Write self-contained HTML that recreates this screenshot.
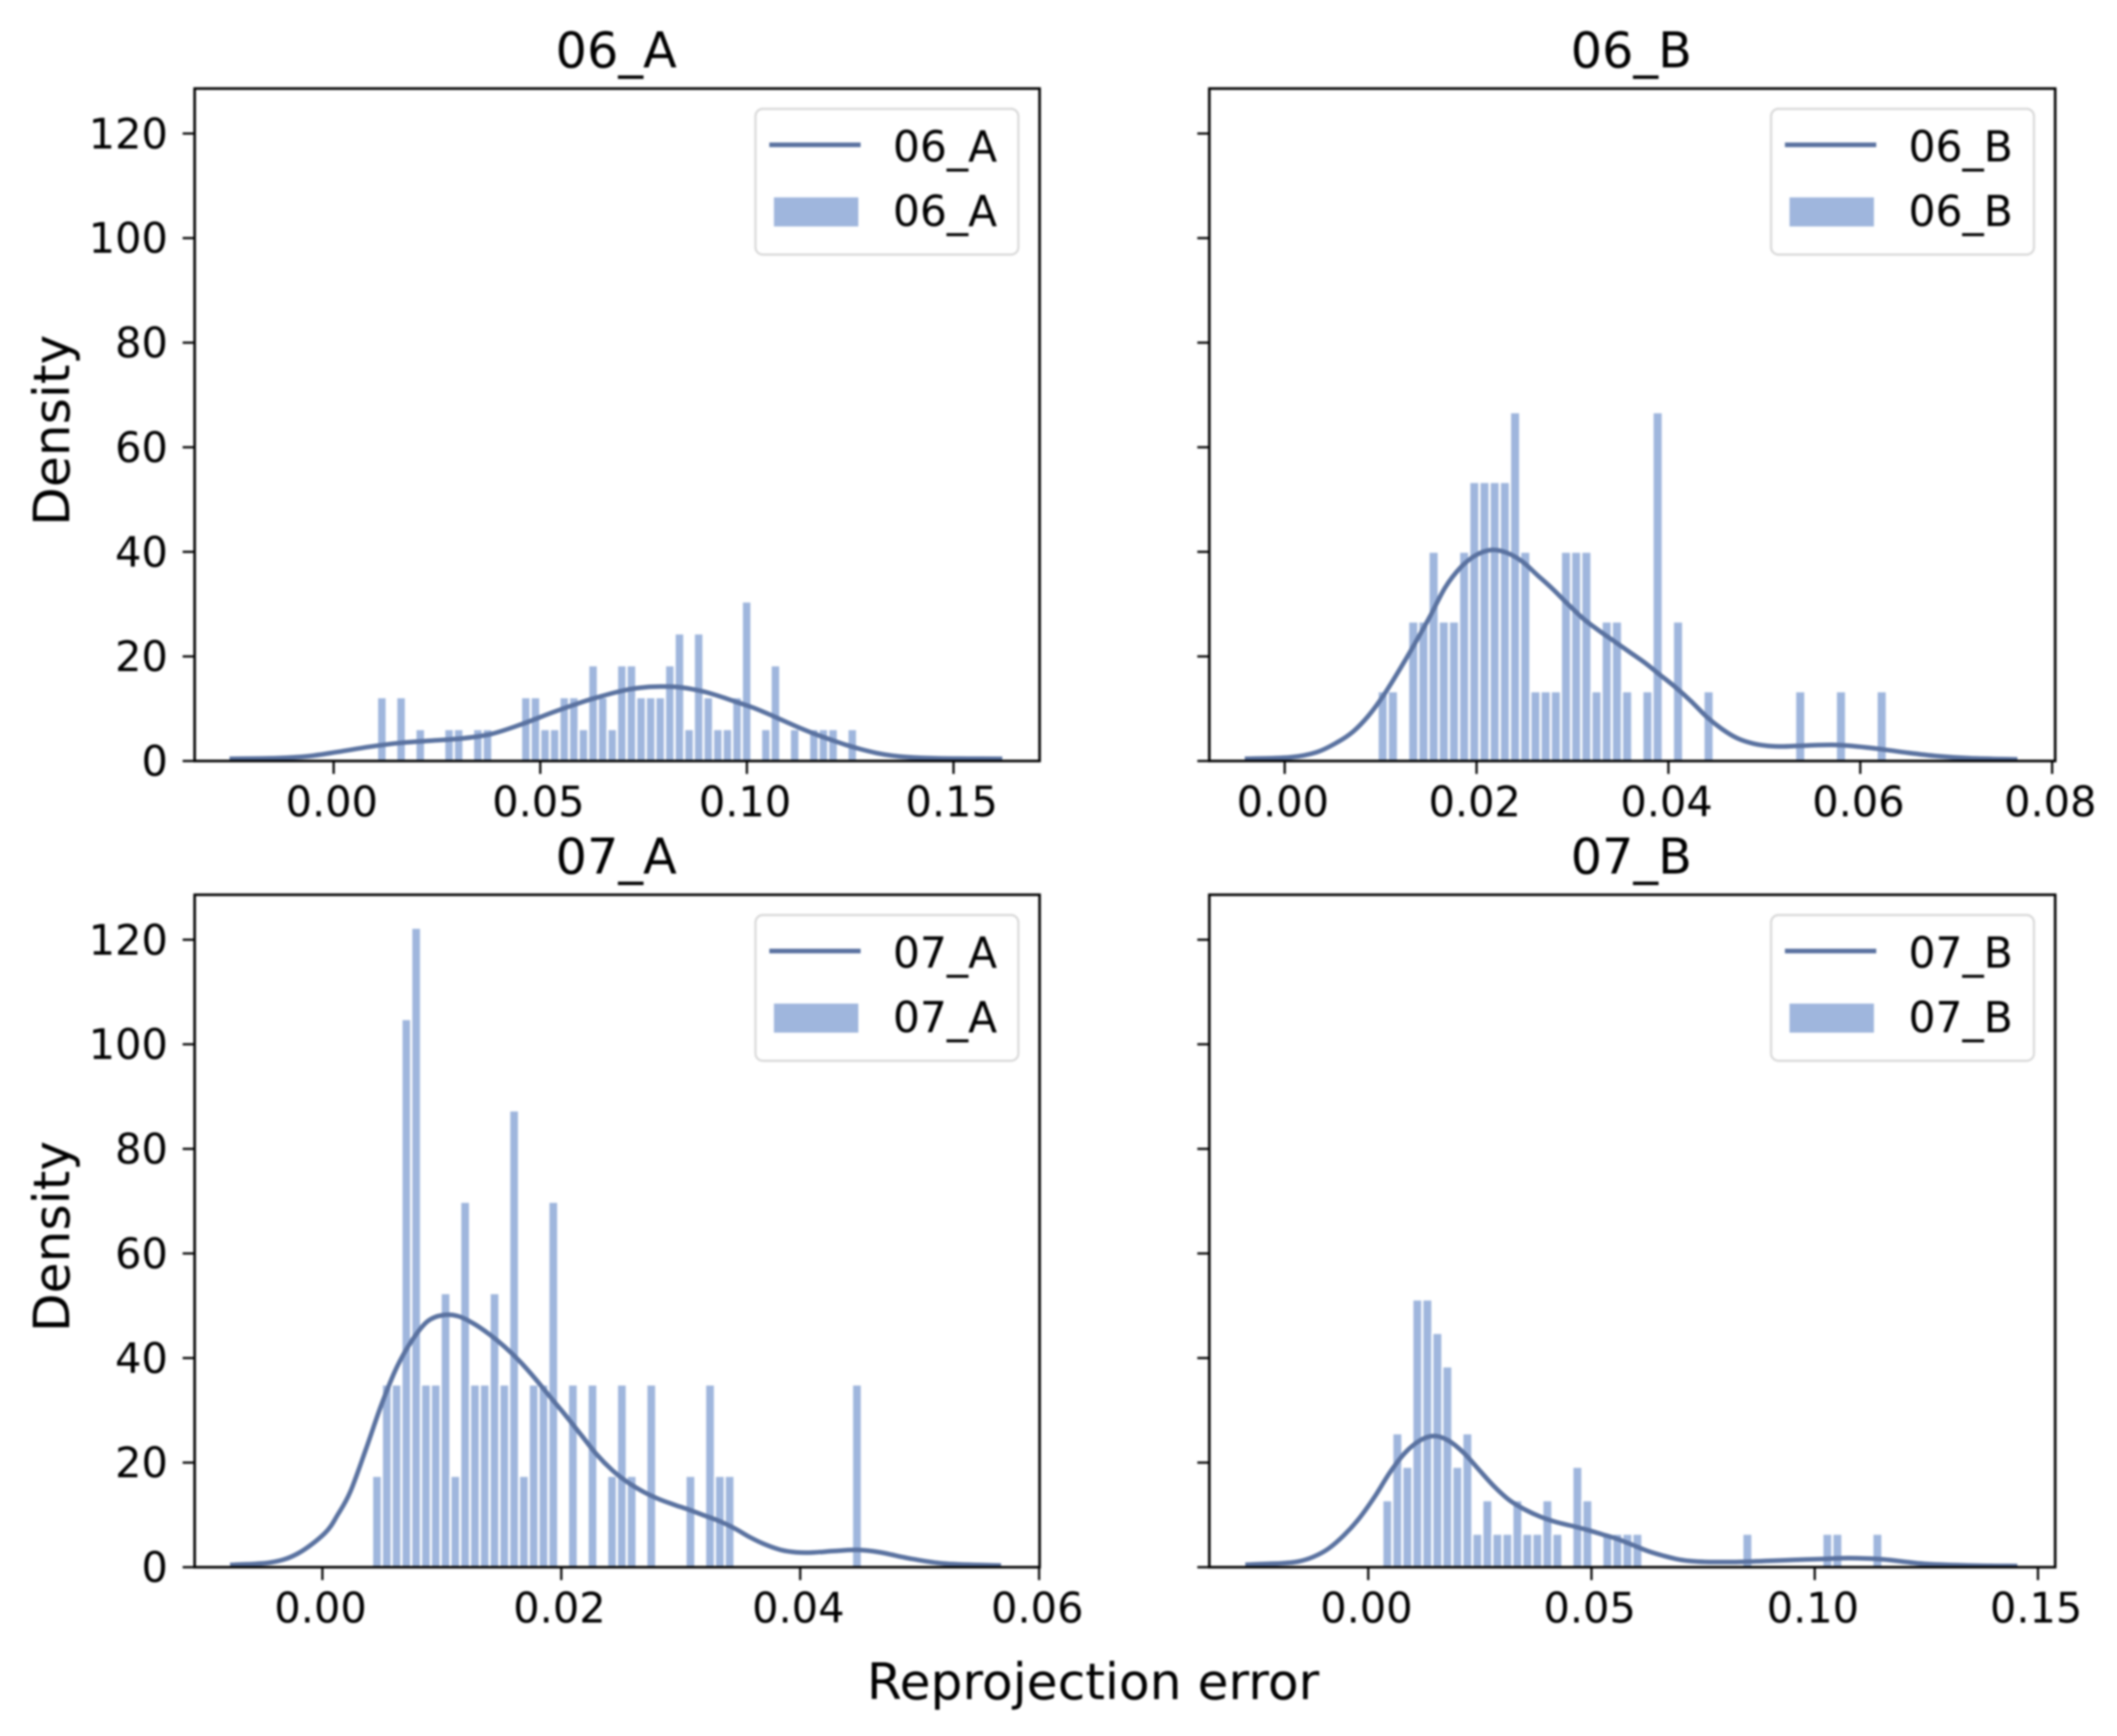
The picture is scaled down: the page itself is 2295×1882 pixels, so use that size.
<!DOCTYPE html>
<html lang="en">
<head>
<meta charset="utf-8">
<title>Reprojection error density</title>
<style>
  html, body { margin: 0; padding: 0; background: #ffffff; }
  #chart { display: block; width: 2295px; height: 1882px; filter: blur(1px); }
  text { font-family: "DejaVu Sans", "Liberation Sans", sans-serif; fill: #000000; }
</style>
</head>
<body>
<svg id="chart" xmlns="http://www.w3.org/2000/svg" width="2295" height="1882" viewBox="0 0 2295 1882">
  <rect x="0" y="0" width="2295" height="1882" fill="#ffffff"></rect>
  <text x="1185" y="1842" font-size="54.5" text-anchor="middle">Reprojection error</text>
</svg>
<script>
// ---- shared axis data ----
const yTickValues = [0, 20, 40, 60, 80, 100, 120];
const yTickLabels = ["0", "20", "40", "60", "80", "100", "120"];
const yLimit = [0, 128.6];

// ---- 06_A ----
const hist06A = [12.2,0,12.2,0,6.1,0,0,6.1,6.1,0,6.1,6.1,0,0,0,12.2,12.2,6.1,6.1,12.2,12.2,6.1,18.3,12.2,6.1,18.3,18.3,12.2,12.2,12.2,18.3,24.4,6.1,24.4,12.2,6.1,6.1,12.2,30.5,0,6.1,18.3,0,6.1,0,6.1,6.1,6.1,0,6.1];
const kdeX06A = [-0.0252,-0.0138,-0.0063,0.0011,0.0085,0.0160,0.0234,0.0309,0.0383,0.0458,0.0532,0.0606,0.0644,0.0681,0.0718,0.0755,0.0792,0.0830,0.0867,0.0904,0.0941,0.0978,0.1016,0.1053,0.1090,0.1127,0.1164,0.1202,0.1239,0.1276,0.1313,0.1350,0.1388,0.1462,0.1536,0.1618];
const kdeY06A = [0.42,0.55,0.9,1.75,2.7,3.45,3.89,4.3,5.2,7.12,9.36,11.4,12.3,13.1,13.75,14.12,14.24,14.15,13.75,13.1,12.2,11.2,10.18,8.95,7.65,6.36,5.18,4.1,3.1,2.25,1.54,1.05,0.75,0.5,0.45,0.42];
const xTicks06A = [0, 0.05, 0.10, 0.15];
const xLabels06A = ["0.00", "0.05", "0.10", "0.15"];
const xLimit06A = [-0.03364, 0.17083];
const bins06A = [0.01167, 0.002323];

// ---- 06_B ----
const hist06B = [13.34,13.34,0,26.68,26.68,40.02,26.68,26.68,40.02,53.36,53.36,53.36,53.36,66.7,40.02,13.34,13.34,13.34,40.02,40.02,40.02,13.34,26.68,26.68,13.34,0,13.34,66.7,0,26.68,0,0,13.34,0,0,0,0,0,0,0,0,13.34,0,0,0,13.34,0,0,0,13.34];
const kdeX06B = [-0.00416,0.00055,0.00336,0.00551,0.00712,0.00871,0.01032,0.01192,0.01352,0.01513,0.01673,0.01833,0.01993,0.02154,0.02313,0.02474,0.02635,0.02794,0.02955,0.03115,0.03275,0.03436,0.03596,0.03756,0.03916,0.04077,0.04237,0.04397,0.04558,0.04717,0.04878,0.05038,0.05198,0.05359,0.05743,0.06094,0.06445,0.06797,0.07147,0.07638];
const kdeY06B = [0.42,0.7,1.7,3.6,5.6,8.6,12.59,17.3,22.3,27.59,33.18,37,39.36,40.36,39.83,38.18,35.53,32.89,29.95,27.18,24.95,22.89,20.83,18.77,16.42,14.06,11.42,8.48,6.12,4.36,3.36,2.89,2.77,2.89,3.07,2.54,1.69,0.95,0.53,0.32];
const xTicks06B = [0, 0.02, 0.04, 0.06, 0.08];
const xLabels06B = ["0.00", "0.02", "0.04", "0.06", "0.08"];
const xLimit06B = [-0.007856, 0.08032];
const bins06B = [0.01022, 0.0010615];

// ---- 07_A ----
const hist07A = [17.47,34.94,34.94,104.82,122.29,34.94,34.94,52.41,17.47,69.88,34.94,34.94,52.41,34.94,87.35,17.47,34.94,34.94,69.88,0,34.94,0,34.94,0,17.47,34.94,17.47,0,34.94,0,0,0,17.47,0,34.94,17.47,17.47,0,0,0,0,0,0,0,0,0,0,0,0,34.94];
const kdeX07A = [-0.00773,-0.00434,-0.00207,0.00020,0.00130,0.00235,0.00365,0.00493,0.00622,0.00751,0.00879,0.01008,0.01137,0.01265,0.01394,0.01523,0.01651,0.0178,0.01909,0.02037,0.02166,0.02295,0.02424,0.02552,0.02681,0.02809,0.02938,0.03067,0.03196,0.03325,0.03453,0.03582,0.03711,0.03839,0.03968,0.04097,0.0429,0.04475,0.04662,0.04945,0.05228,0.05681];
const kdeY07A = [0.44,0.9,2.6,6.5,10.1,14.5,22.6,31.0,38.2,43.4,47,48.2,48,46.6,44.6,42.2,39.4,36.1,32.5,29,25.3,21.6,18.6,16.3,14.5,13.1,12,11,9.9,8.8,7.4,5.7,4.3,3.3,2.85,2.8,3.1,3.3,2.87,1.55,0.66,0.33];
const xTicks07A = [0, 0.02, 0.04, 0.06];
const xLabels07A = ["0.00", "0.02", "0.04", "0.06"];
const xLimit07A = [-0.010695, 0.06004];
const bins07A = [0.004571, 0.00082];

// ---- 07_B ----
const hist07B = [12.8,25.6,19.2,51.2,51.2,44.8,38.4,19.2,25.6,6.4,12.8,6.4,6.4,12.8,6.4,6.4,12.8,6.4,0,19.2,12.8,0,6.4,6.4,6.4,6.4,0,0,0,0,0,0,0,0,0,0,6.4,0,0,0,0,0,0,0,6.4,6.4,0,0,0,6.4];
const kdeX07B = [-0.02754,-0.02273,-0.01928,-0.01583,-0.0124,-0.00895,-0.0055,-0.00207,0.00138,0.00483,0.00826,0.01171,0.01480,0.01791,0.02136,0.02479,0.02824,0.03169,0.03512,0.03857,0.04202,0.04545,0.0489,0.05236,0.05579,0.05924,0.06269,0.06612,0.06957,0.07302,0.07645,0.08196,0.08884,0.09574,0.10262,0.10772,0.11528,0.12433,0.13486,0.14539];
const kdeY07B = [0.47,0.65,0.76,1.06,1.94,3.53,6.06,9.29,13.4,18.1,21.9,24.3,25.1,24.24,21.88,18.65,15.41,12.76,11,9.65,8.65,7.94,7.18,6.29,5.41,4.24,3.06,2.18,1.47,1.12,1,1,1.18,1.41,1.59,1.75,1.5,0.66,0.33,0.22];
const xTicks07B = [0, 0.05, 0.10, 0.15];
const xLabels07B = ["0.00", "0.05", "0.10", "0.15"];
const xLimit07B = [-0.0356, 0.15386];
const bins07B = [0.00428, 0.00224];

const SVG_NS = "http://www.w3.org/2000/svg";
const svg = document.getElementById("chart");
const BAR_COLOR = "#9fb6dd";
const LINE_COLOR = "#5a72a0";

function make(tag, attrs, parent) {
  const el = document.createElementNS(SVG_NS, tag);
  for (const k in attrs) el.setAttribute(k, attrs[k]);
  parent.appendChild(el);
  return el;
}

function smoothPath(pts) {
  let d = "M" + pts[0][0].toFixed(2) + " " + pts[0][1].toFixed(2);
  for (let i = 0; i < pts.length - 1; i++) {
    const p0 = pts[Math.max(i - 1, 0)], p1 = pts[i], p2 = pts[i + 1], p3 = pts[Math.min(i + 2, pts.length - 1)];
    const c1x = p1[0] + (p2[0] - p0[0]) / 6, c1y = p1[1] + (p2[1] - p0[1]) / 6;
    const c2x = p2[0] - (p3[0] - p1[0]) / 6, c2y = p2[1] - (p3[1] - p1[1]) / 6;
    d += "C" + c1x.toFixed(2) + " " + c1y.toFixed(2) + " " + c2x.toFixed(2) + " " + c2y.toFixed(2) + " " + p2[0].toFixed(2) + " " + p2[1].toFixed(2);
  }
  return d;
}

function drawPanel(name, box, showYLabels, hist, bins, kdeX, kdeY, xTicks, xLabels, xLimit) {
  const left = box[0], right = box[1], top = box[2], bottom = box[3];
  const sx = function (v) { return left + (v - xLimit[0]) / (xLimit[1] - xLimit[0]) * (right - left); };
  const sy = function (v) { return bottom - (v - yLimit[0]) / (yLimit[1] - yLimit[0]) * (bottom - top); };
  const slug = name.toLowerCase().replace("_", "-");

  const g = make("g", {}, svg);
  
  

  const title = make("text", { x: (left + right) / 2 - 1, y: top - 23, "font-size": 53.5, "text-anchor": "middle" }, g);
  title.textContent = name;
  
  

  hist.forEach(function (v, i) {
    if (v <= 0) return;
    const c = bins[0] + bins[1] * i;
    const x0 = sx(c - bins[1] / 2), x1 = sx(c + bins[1] / 2);
    const bar = make("rect", { x: x0, y: sy(v), width: x1 - x0, height: bottom - sy(v), fill: BAR_COLOR, stroke: "#ffffff", "stroke-width": 2.3 }, g);
    
    
  });

  const pts = kdeX.map(function (x, i) { return [sx(x), sy(kdeY[i])]; });
  const curve = make("path", { d: smoothPath(pts), fill: "none", stroke: LINE_COLOR, "stroke-width": 5, "stroke-linecap": "butt" }, g);
  
  

  xTicks.forEach(function (t, i) {
    const px = sx(t);
    const tick = make("line", { x1: px, x2: px, y1: bottom, y2: bottom + 14, stroke: "#000", "stroke-width": 2.4 }, g);
    
    
    const lab = make("text", { x: px - 2, y: bottom + 60, "font-size": 45, "text-anchor": "middle" }, g);
    lab.textContent = xLabels[i];
    
    
  });

  yTickValues.forEach(function (t, i) {
    const py = sy(t);
    const tick = make("line", { x1: left - 13, x2: left, y1: py, y2: py, stroke: "#000", "stroke-width": 2.4 }, g);
    
    
    if (showYLabels) {
      const lab = make("text", { x: left - 29, y: py + 16, "font-size": 45, "text-anchor": "end" }, g);
      lab.textContent = yTickLabels[i];
      
      
    }
  });

  if (showYLabels) {
    const cy = (top + bottom) / 2 + 6;
    const yt = make("text", { x: 75, y: cy, "font-size": 54.5, "text-anchor": "middle", transform: "rotate(-90 75 " + cy + ")" }, g);
    yt.textContent = "Density";
    
    
  }

  const frame = make("rect", { x: left, y: top, width: right - left, height: bottom - top, fill: "none", stroke: "#000", "stroke-width": 2.8 }, g);
  
  

  // legend
  const lx = right - 308, ly = top + 22;
  const lg = make("g", {}, g);
  
  
  const lbox = make("rect", { x: lx, y: ly, width: 285, height: 158, rx: 8, ry: 8, fill: "#ffffff", stroke: "#d9d9d9", "stroke-width": 2.4 }, lg);
  
  
  const lline = make("line", { x1: lx + 15, x2: lx + 114, y1: ly + 39, y2: ly + 39, stroke: LINE_COLOR, "stroke-width": 5 }, lg);
  
  
  const lt1 = make("text", { x: lx + 149, y: ly + 57, "font-size": 46 }, lg);
  lt1.textContent = name;
  
  
  const lpatch = make("rect", { x: lx + 20, y: ly + 96, width: 91.5, height: 31.5, fill: BAR_COLOR }, lg);
  
  
  const lt2 = make("text", { x: lx + 149, y: ly + 127, "font-size": 46 }, lg);
  lt2.textContent = name;
  
  
}

drawPanel("06_A", [211, 1127, 96, 825], true, hist06A, bins06A, kdeX06A, kdeY06A, xTicks06A, xLabels06A, xLimit06A);
drawPanel("06_B", [1311, 2228, 96, 825], false, hist06B, bins06B, kdeX06B, kdeY06B, xTicks06B, xLabels06B, xLimit06B);
drawPanel("07_A", [211, 1127, 970, 1699], true, hist07A, bins07A, kdeX07A, kdeY07A, xTicks07A, xLabels07A, xLimit07A);
drawPanel("07_B", [1311, 2228, 970, 1699], false, hist07B, bins07B, kdeX07B, kdeY07B, xTicks07B, xLabels07B, xLimit07B);
</script>
</body>
</html>
